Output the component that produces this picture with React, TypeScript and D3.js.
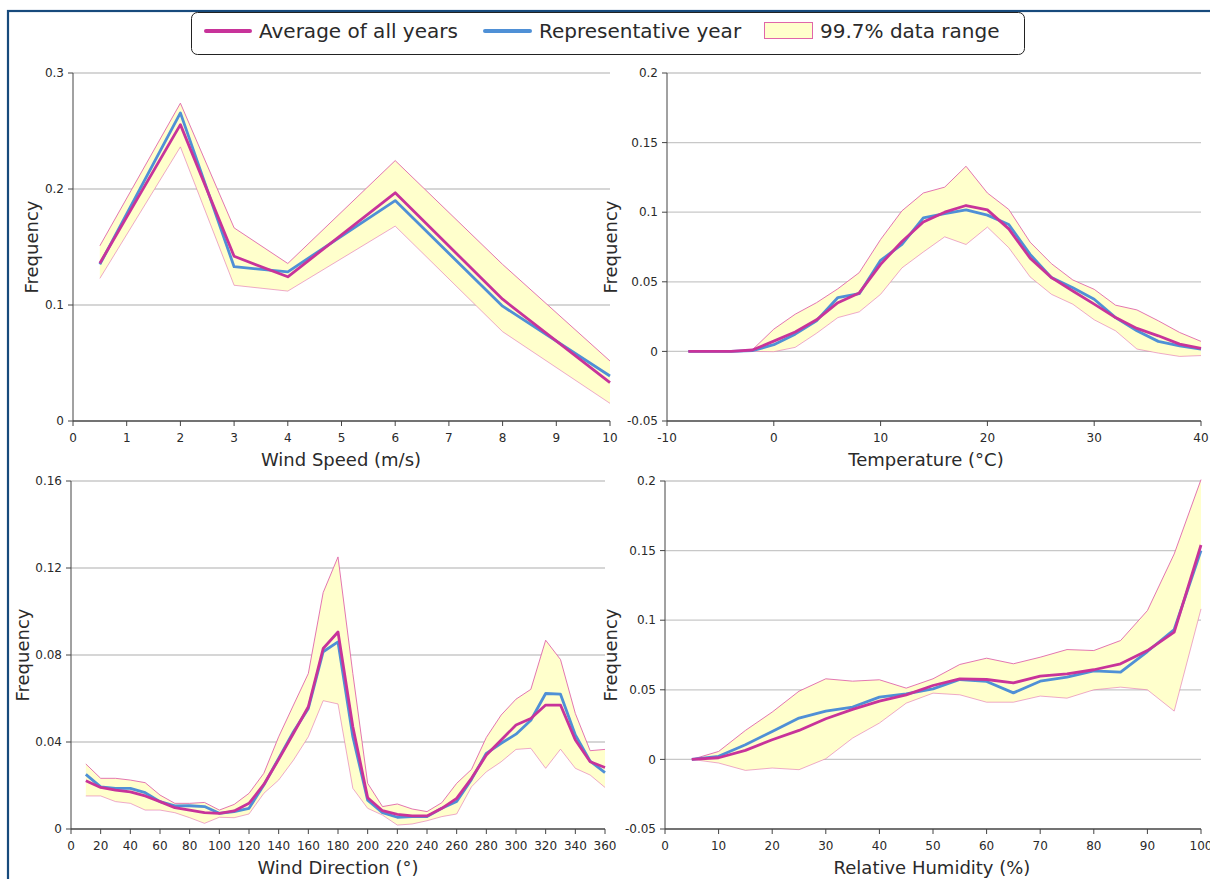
import React from "react";
import * as d3 from "d3";

// ---------- Data ----------
const windSpeedX = [0.5, 2, 3, 4, 6, 8, 10];
const windSpeedAvg = [0.136, 0.2555, 0.142, 0.1243, 0.1967, 0.105, 0.033];
const windSpeedRep = [0.135, 0.2656, 0.133, 0.1286, 0.19, 0.099, 0.0388];
const windSpeedHi = [0.151, 0.274, 0.1665, 0.1358, 0.2245, 0.135, 0.0517];
const windSpeedLo = [0.1229, 0.2363, 0.117, 0.112, 0.168, 0.077, 0.0152];

const tempX = [-8, -6, -4, -2, 0, 2, 4, 6, 8, 10, 12, 14, 16, 18, 20, 22, 24, 26, 28, 30, 32, 34, 36, 38, 40];
const tempAvg = [0, 0, 0, 0.001, 0.0074, 0.014, 0.0227, 0.035, 0.042, 0.0625, 0.079, 0.093, 0.1, 0.1048, 0.1017, 0.088, 0.067, 0.053, 0.0434, 0.034, 0.0243, 0.0165, 0.0112, 0.0052, 0.0021];
const tempRep = [0, 0, 0, 0.0005, 0.0048, 0.0124, 0.022, 0.0387, 0.0415, 0.0654, 0.0768, 0.096, 0.099, 0.1017, 0.0979, 0.0912, 0.0697, 0.053, 0.0458, 0.0375, 0.0243, 0.0148, 0.0072, 0.004, 0.0017];
const tempHi = [0, 0, 0, 0.0012, 0.016, 0.0267, 0.035, 0.045, 0.0566, 0.0804, 0.101, 0.1138, 0.118, 0.133, 0.1138, 0.102, 0.0785, 0.063, 0.0513, 0.0446, 0.0332, 0.0298, 0.022, 0.0136, 0.0072];
const tempLo = [0, 0, 0, 0, -0.0002, 0.0029, 0.013, 0.0243, 0.0284, 0.041, 0.06, 0.0714, 0.0823, 0.0768, 0.0893, 0.0745, 0.0535, 0.041, 0.0339, 0.0227, 0.0148, 0.0017, -0.0012, -0.0036, -0.003];

const dirX = [10, 20, 30, 40, 50, 60, 70, 80, 90, 100, 110, 120, 130, 140, 150, 160, 170, 180, 190, 200, 210, 220, 230, 240, 250, 260, 270, 280, 290, 300, 310, 320, 330, 340, 350, 360];
const dirAvg = [0.0222, 0.0191, 0.0179, 0.0171, 0.0152, 0.0126, 0.0098, 0.0087, 0.0075, 0.0072, 0.0083, 0.0118, 0.0205, 0.032, 0.044, 0.0562, 0.083, 0.0906, 0.047, 0.0144, 0.0084, 0.0067, 0.006, 0.006, 0.0095, 0.0141, 0.0233, 0.034, 0.0409, 0.0478, 0.0508, 0.057, 0.057, 0.0409, 0.0309, 0.0283];
const dirRep = [0.0251, 0.0194, 0.0187, 0.0187, 0.0167, 0.0126, 0.0106, 0.0107, 0.0103, 0.0072, 0.008, 0.0095, 0.0202, 0.0325, 0.0447, 0.0554, 0.0815, 0.086, 0.0424, 0.0133, 0.0075, 0.0054, 0.0057, 0.0057, 0.0095, 0.0126, 0.0228, 0.0348, 0.0394, 0.0436, 0.05, 0.0623, 0.062, 0.0432, 0.0312, 0.0259];
const dirHi = [0.0299, 0.0233, 0.0233, 0.0225, 0.0213, 0.0156, 0.0118, 0.0118, 0.0122, 0.0087, 0.0113, 0.0164, 0.0256, 0.0424, 0.057, 0.0715, 0.1087, 0.1251, 0.0715, 0.021, 0.0103, 0.0115, 0.0092, 0.008, 0.0121, 0.021, 0.0274, 0.0421, 0.0524, 0.0597, 0.0642, 0.0868, 0.0779, 0.0531, 0.036, 0.0366];
const dirLo = [0.0152, 0.0152, 0.0126, 0.0118, 0.0087, 0.0087, 0.0075, 0.0052, 0.0026, 0.0054, 0.0052, 0.0069, 0.0164, 0.0225, 0.0317, 0.0424, 0.059, 0.0575, 0.0187, 0.0095, 0.0064, 0.0018, 0.0023, 0.0038, 0.0057, 0.0069, 0.0194, 0.0263, 0.0309, 0.0366, 0.0371, 0.0279, 0.0367, 0.0279, 0.0248, 0.0191];

const rhX = [5, 10, 15, 20, 25, 30, 35, 40, 45, 50, 55, 60, 65, 70, 75, 80, 85, 90, 95, 100];
const rhAvg = [0, 0.0012, 0.0065, 0.0141, 0.0208, 0.0292, 0.0359, 0.0419, 0.0464, 0.0531, 0.0579, 0.0574, 0.055, 0.0598, 0.0615, 0.0644, 0.0687, 0.0782, 0.0914, 0.154];
const rhRep = [0, 0.0022, 0.0105, 0.0201, 0.0297, 0.0347, 0.0376, 0.0447, 0.0471, 0.0507, 0.0574, 0.056, 0.0478, 0.0562, 0.0591, 0.0636, 0.0627, 0.0775, 0.0933, 0.15];
const rhHi = [0, 0.0057, 0.0208, 0.034, 0.049, 0.0579, 0.0562, 0.0572, 0.0512, 0.0579, 0.0682, 0.0727, 0.0687, 0.0734, 0.0789, 0.0782, 0.0854, 0.1069, 0.1476, 0.201];
const rhLo = [0, -0.0026, -0.0079, -0.0062, -0.0074, 0.0005, 0.0153, 0.0261, 0.0404, 0.0476, 0.0464, 0.0411, 0.0411, 0.0455, 0.044, 0.05, 0.0519, 0.05, 0.0347, 0.1081];

const windSpeedXTicks = [0, 1, 2, 3, 4, 5, 6, 7, 8, 9, 10];
const windSpeedYTicks = [0, 0.1, 0.2, 0.3];
const tempXTicks = [-10, 0, 10, 20, 30, 40];
const tempYTicks = [-0.05, 0, 0.05, 0.1, 0.15, 0.2];
const dirXTicks = [0, 20, 40, 60, 80, 100, 120, 140, 160, 180, 200, 220, 240, 260, 280, 300, 320, 340, 360];
const dirYTicks = [0, 0.04, 0.08, 0.12, 0.16];
const rhXTicks = [0, 10, 20, 30, 40, 50, 60, 70, 80, 90, 100];
const rhYTicks = [-0.05, 0, 0.05, 0.1, 0.15, 0.2];

const legendLabels = ["Average of all years", "Representative year", "99.7% data range"];

// ---------- Style ----------
const FONT = "'DejaVu Sans', Verdana, sans-serif";
const MAGENTA = "#c8339a";
const BLUE = "#4f90d6";
const BAND = "#ffffcc";
const BAND_STROKE = "#e066aa";
const GRID = "#c8c8c8";
const AXIS = "#444";
const TEXT = "#2a2a2a";

type PanelDef = {
  x: number[];
  avg: number[];
  rep: number[];
  hi: number[];
  lo: number[];
  xDomain: [number, number];
  yDomain: [number, number];
  xTicks: number[];
  yTicks: number[];
  left: number;
  right: number;
  top: number;
  bottom: number;
  xTitle: string;
  xTitleX: number;
  yTitleX: number;
};

const panels: PanelDef[] = [
  {
    x: windSpeedX, avg: windSpeedAvg, rep: windSpeedRep, hi: windSpeedHi, lo: windSpeedLo,
    xDomain: [0, 10], yDomain: [0, 0.3], xTicks: windSpeedXTicks, yTicks: windSpeedYTicks,
    left: 73, right: 610, top: 73, bottom: 421, xTitle: "Wind Speed (m/s)", xTitleX: 341, yTitleX: 38,
  },
  {
    x: tempX, avg: tempAvg, rep: tempRep, hi: tempHi, lo: tempLo,
    xDomain: [-10, 40], yDomain: [-0.05, 0.2], xTicks: tempXTicks, yTicks: tempYTicks,
    left: 667, right: 1201, top: 73, bottom: 421, xTitle: "Temperature (°C)", xTitleX: 926, yTitleX: 617,
  },
  {
    x: dirX, avg: dirAvg, rep: dirRep, hi: dirHi, lo: dirLo,
    xDomain: [0, 360], yDomain: [0, 0.16], xTicks: dirXTicks, yTicks: dirYTicks,
    left: 71, right: 605, top: 481, bottom: 829, xTitle: "Wind Direction (°)", xTitleX: 338, yTitleX: 29,
  },
  {
    x: rhX, avg: rhAvg, rep: rhRep, hi: rhHi, lo: rhLo,
    xDomain: [0, 100], yDomain: [-0.05, 0.2], xTicks: rhXTicks, yTicks: rhYTicks,
    left: 665, right: 1201, top: 481, bottom: 829, xTitle: "Relative Humidity (%)", xTitleX: 932, yTitleX: 617,
  },
];

const fmt = (v: number) => String(+v.toFixed(3));

function Panel({ p }: { p: PanelDef }) {
  const xs = d3.scaleLinear().domain(p.xDomain).range([p.left, p.right]);
  const ys = d3.scaleLinear().domain(p.yDomain).range([p.bottom, p.top]);
  const idx = p.x.map((_, i) => i);
  const area = d3.area<number>().x((i) => xs(p.x[i])).y0((i) => ys(p.lo[i])).y1((i) => ys(p.hi[i]));
  const mk = (arr: number[]) => d3.line<number>().x((i) => xs(p.x[i])).y((i) => ys(arr[i]))(idx) || "";
  const midY = (p.top + p.bottom) / 2;
  return (
    <g>
      {p.yTicks.map((t) =>
        t === p.yDomain[0] ? null : (
          <line key={"g" + t} x1={p.left} x2={p.right} y1={ys(t)} y2={ys(t)} stroke={GRID} strokeWidth={1.3} />
        )
      )}
      <path d={area(idx) || ""} fill={BAND} stroke="none" />
      <path d={mk(p.hi)} fill="none" stroke={BAND_STROKE} strokeWidth={0.9} />
      <path d={mk(p.lo)} fill="none" stroke={BAND_STROKE} strokeWidth={0.7} opacity={0.8} />
      <path d={mk(p.rep)} fill="none" stroke={BLUE} strokeWidth={2.8} strokeLinejoin="round" />
      <path d={mk(p.avg)} fill="none" stroke={MAGENTA} strokeWidth={2.8} strokeLinejoin="round" />
      {/* axes */}
      <line x1={p.left} x2={p.left} y1={p.top} y2={p.bottom} stroke={AXIS} strokeWidth={1} />
      <line x1={p.left} x2={p.right} y1={p.bottom} y2={p.bottom} stroke={AXIS} strokeWidth={1.3} />
      {p.yTicks.map((t) => (
        <g key={"y" + t}>
          <line x1={p.left - 5} x2={p.left} y1={ys(t)} y2={ys(t)} stroke={AXIS} strokeWidth={1} />
          <text x={p.left - 9} y={ys(t)} dy="0.35em" textAnchor="end" fontSize={12} fill={TEXT} fontFamily={FONT}>
            {fmt(t)}
          </text>
        </g>
      ))}
      {p.xTicks.map((t) => (
        <g key={"x" + t}>
          <line x1={xs(t)} x2={xs(t)} y1={p.bottom} y2={p.bottom + 5} stroke={AXIS} strokeWidth={1} />
          <text x={xs(t)} y={p.bottom + 21} textAnchor="middle" fontSize={12} fill={TEXT} fontFamily={FONT}>
            {fmt(t)}
          </text>
        </g>
      ))}
      <text x={p.xTitleX} y={p.bottom + 45} textAnchor="middle" fontSize={18} fill={TEXT} fontFamily={FONT}>
        {p.xTitle}
      </text>
      <text
        transform={`translate(${p.yTitleX},${midY}) rotate(-90)`}
        textAnchor="middle"
        fontSize={18}
        fill={TEXT}
        fontFamily={FONT}
      >
        Frequency
      </text>
    </g>
  );
}

function Legend() {
  const y = 31;
  return (
    <g fontFamily={FONT} fontSize={20} fill={TEXT}>
      <rect x={191.5} y={12.5} width={833} height={42} rx={6} ry={6} fill="#fff" stroke="#222" strokeWidth={1} />
      <line x1={206} x2={250} y1={y} y2={y} stroke={MAGENTA} strokeWidth={4} strokeLinecap="round" />
      <text x={259} y={y} dy="0.35em">{legendLabels[0]}</text>
      <line x1={485} x2={530} y1={y} y2={y} stroke={BLUE} strokeWidth={4} strokeLinecap="round" />
      <text x={539} y={y} dy="0.35em">{legendLabels[1]}</text>
      <rect x={764.5} y={22.5} width={48} height={16} fill={BAND} stroke={BAND_STROKE} strokeWidth={1} />
      <text x={820} y={y} dy="0.35em">{legendLabels[2]}</text>
    </g>
  );
}

export default function App() {
  return (
    <svg
      width={1210}
      height={879}
      style={{ position: "absolute", left: 0, top: 0, background: "#fff" }}
    >
      <rect x={0} y={0} width={1210} height={879} fill="#fff" />
      <rect x={8} y={11} width={1300} height={1000} fill="none" stroke="#174a7c" strokeWidth={2.2} />
      {panels.map((p, i) => (
        <Panel key={i} p={p} />
      ))}
      <Legend />
    </svg>
  );
}
